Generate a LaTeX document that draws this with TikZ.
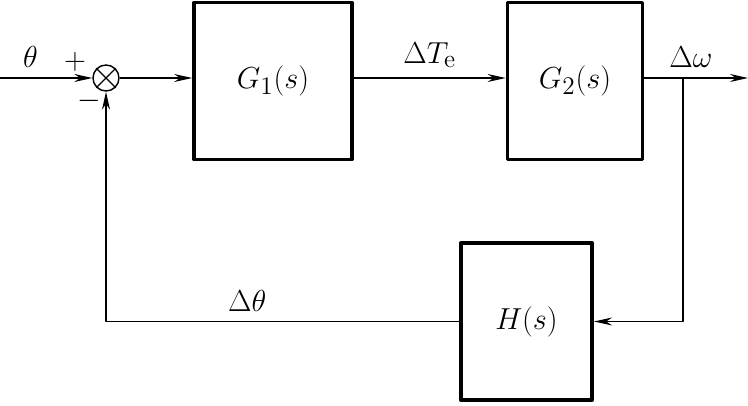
\documentclass[tikz,border=0pt]{standalone}
\usetikzlibrary{arrows.meta}
\begin{document}
\begin{tikzpicture}[x=0.02cm, y=0.02cm, line join=round, >={Stealth[length=3.6mm,width=1.6mm]},
	font=\fontsize{19}{22}\selectfont,
	block/.style={draw, line width=2.1pt, minimum height=3.14cm},
	sig/.style={line width=0.8pt}]
	\useasboundingbox (0,0) rectangle (748,406);
	% blocks
	\node[block, minimum width=3.16cm] (g1) at (273,325) {$G_1(s)$};
	\node[block, minimum width=2.7cm] (g2) at (575,325) {$G_2(s)$};
	\node[block, minimum width=2.63cm] (h) at (526.5,84.5) {$H(s)$};
	\node[draw, sig, circle, minimum size=0.52cm, inner sep=0pt] (sum) at (106,328) {};
	\draw[sig] (sum.45)--(sum.225) (sum.135)--(sum.-45);
	\coordinate (in) at (0,328);
	\coordinate (out) at (748,328);
	\coordinate (br) at (683,328);
	% forward path
	\draw[sig,->] (in) -- (sum.west) node[pos=0.33, above=2pt] {$\theta$};
	\draw[sig,->] (sum.east) -- (sum -| g1.west);
	\draw[sig,->] (sum -| g1.east) -- (sum -| g2.west) node[midway, above=2pt] {$\Delta T_{\mathrm{e}}$};
	\draw[sig,->] (sum -| g2.east) -- (out) node[pos=0.45, above=2pt] {$\Delta\omega$};
	% feedback path
	\draw[sig,->] (br) |- (h.east);
	\draw[sig,->] (h.west) -| (sum.south) node[pos=0.3, above=2pt] {$\Delta\theta$};
	\node at (75,344) {$+$};
	\node at (89,305) {$-$};
\end{tikzpicture}
\end{document}
